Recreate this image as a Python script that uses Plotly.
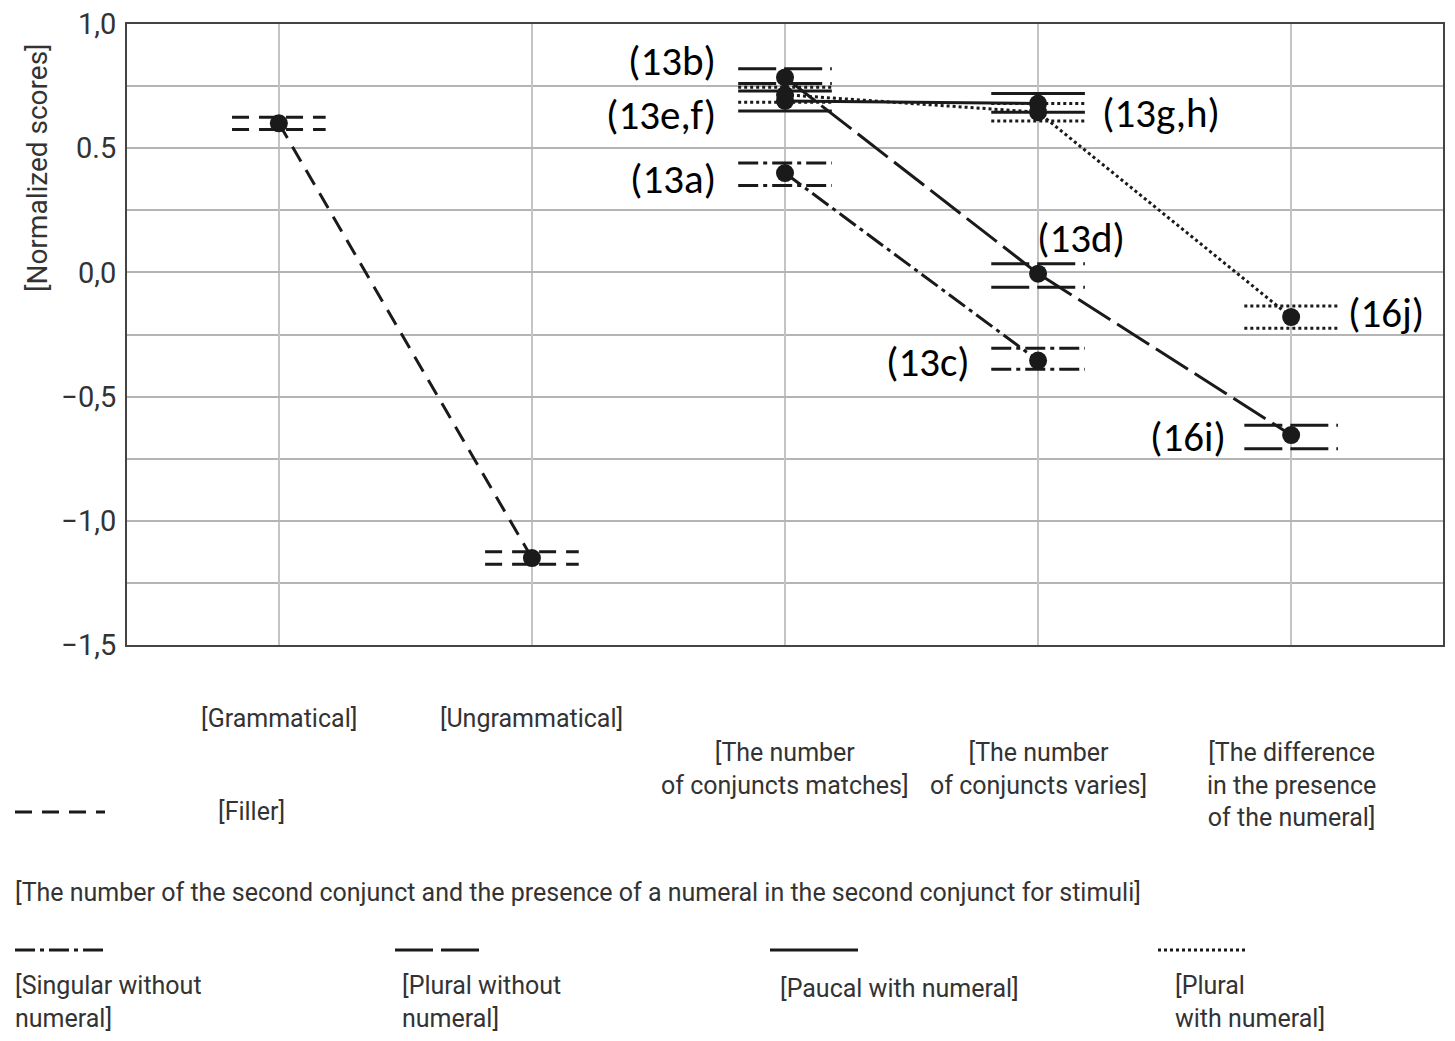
import plotly.graph_objects as go

# ---------------- data ----------------
categories = ["[Grammatical]", "[Ungrammatical]",
              "[The number<br>of conjuncts matches]",
              "[The number<br>of conjuncts varies]",
              "[The difference<br>in the presence<br>of the numeral]"]
cat_label_py = [718, 718, 769, 769, 785]   # screen-pixel centre rows of the labels

filler_x = [0, 1]
filler_y = [0.60, -1.15]
filler_lo = [0.575, -1.175]
filler_hi = [0.625, -1.125]

sing_x = [2, 3]
sing_y = [0.40, -0.355]
sing_lo = [0.35, -0.39]
sing_hi = [0.44, -0.305]

plnn_x = [2, 3, 4]
plnn_y = [0.785, -0.005, -0.655]
plnn_lo = [0.76, -0.06, -0.71]
plnn_hi = [0.82, 0.035, -0.615]

pauc_x = [2, 3]
pauc_y = [0.69, 0.68]
pauc_lo = [0.65, 0.645]
pauc_hi = [0.73, 0.72]

plwn_x = [2, 3, 4]
plwn_y = [0.715, 0.645, -0.18]
plwn_lo = [0.685, 0.61, -0.225]
plwn_hi = [0.745, 0.68, -0.135]

point_labels = ["(13b)", "(13e,f)", "(13a)", "(13g,h)", "(13d)", "(13c)", "(16j)", "(16i)"]
point_label_x = [1.735, 1.735, 1.735, 3.245, 2.988, 2.739, 4.217, 3.750]
point_label_y = [0.853, 0.632, 0.378, 0.64, 0.137, -0.362, -0.165, -0.664]
point_label_side = ["right", "right", "right", "left", "left", "right", "left", "right"]

ytick_vals = [1.0, 0.5, 0.0, -0.5, -1.0, -1.5]
ytick_text = ["1,0", "0.5", "0,0", "\u22120,5", "\u22121,0", "\u22121,5"]

# ---------------- styles ----------------
INK = "#1a1a1a"
TXT = "#333333"
NARROW = "Roboto, Liberation Sans Narrow, DejaVu Sans Condensed, sans-serif"
LBL = "Carlito, Calibri, Noto Sans, Open Sans, sans-serif"
HALF = 0.185  # half width of CI bars, in category units
NSIZE = 25

DASH_FILLER = "17px,10px"
DASH_LONG = "38px,8px"
DASH_DASHDOT = "20px,5px,4px,5px"
DASH_DOT = "3px,3px"

fig = go.Figure()

def add_series(xs, ys, los, his, dash, width=3):
    fig.add_trace(go.Scatter(x=xs, y=ys, mode="lines+markers",
                             line=dict(color=INK, width=width, dash=dash),
                             marker=dict(color=INK, size=18),
                             showlegend=False, hoverinfo="skip"))
    for x, lo, hi in zip(xs, los, his):
        for v in (lo, hi):
            fig.add_trace(go.Scatter(x=[x - HALF, x + HALF], y=[v, v], mode="lines",
                                     line=dict(color=INK, width=width, dash=dash),
                                     showlegend=False, hoverinfo="skip"))

add_series(filler_x, filler_y, filler_lo, filler_hi, DASH_FILLER)
add_series(sing_x, sing_y, sing_lo, sing_hi, DASH_DASHDOT)
add_series(plnn_x, plnn_y, plnn_lo, plnn_hi, DASH_LONG)
add_series(pauc_x, pauc_y, pauc_lo, pauc_hi, "solid")
add_series(plwn_x, plwn_y, plwn_lo, plwn_hi, DASH_DOT)

# plot area in screen pixels (reference)
PX_L, PX_R, PX_T, PX_B = 127, 1443, 24, 645

def px2paper_x(px):
    return (px - PX_L) / float(PX_R - PX_L)

def px2paper_y(py):
    return (PX_B - py) / float(PX_B - PX_T)

annotations = []
for t, x, y, side in zip(point_labels, point_label_x, point_label_y, point_label_side):
    annotations.append(dict(x=x, y=y, xref="x", yref="y", text=t, showarrow=False,
                            xanchor=side, yanchor="middle",
                            font=dict(family=LBL, size=41, color="#000000")))

for i, (c, py) in enumerate(zip(categories, cat_label_py)):
    annotations.append(dict(x=i, y=px2paper_y(py), xref="x", yref="paper", text=c,
                            showarrow=False, xanchor="center", yanchor="middle",
                            align="center",
                            font=dict(family=NARROW, size=NSIZE, color=TXT)))

# y axis title
annotations.append(dict(x=px2paper_x(37), y=px2paper_y(168), xref="paper", yref="paper",
                        text="[Normalized scores]", textangle=-90, showarrow=False,
                        xanchor="center", yanchor="middle",
                        font=dict(family=NARROW, size=28, color=TXT)))

# legend texts
legend_texts = [
    ("[Filler]", 251, 812, "center"),
    ("[The number of the second conjunct and the presence of a numeral in the second conjunct for stimuli]", 13, 892, "left"),
    ("[Singular without<br>numeral]", 13, 1002, "left"),
    ("[Plural without<br>numeral]", 400, 1002, "left"),
    ("[Paucal with numeral]", 778, 988, "left"),
    ("[Plural<br>with numeral]", 1173, 1002, "left"),
]
for t, x, y, anc in legend_texts:
    annotations.append(dict(x=px2paper_x(x), y=px2paper_y(y), xref="paper", yref="paper",
                            text=t, showarrow=False, xanchor=anc, yanchor="middle", align="left",
                            font=dict(family=NARROW, size=NSIZE, color=TXT)))

# legend line samples
legend_samples = [
    (15, 105, 812, DASH_FILLER),
    (15, 105, 950, DASH_DASHDOT),
    (395, 485, 950, DASH_LONG),
    (770, 858, 950, "solid"),
    (1158, 1245, 950, DASH_DOT),
]
shapes = []
for x0, x1, y, d in legend_samples:
    shapes.append(dict(type="line", xref="paper", yref="paper",
                       x0=px2paper_x(x0), x1=px2paper_x(x1),
                       y0=px2paper_y(y), y1=px2paper_y(y),
                       line=dict(color=INK, width=3, dash=d)))

# page body has an 8px margin: shrink the figure so it fits the window
OFF = 8
W, H = 1455 - 2 * OFF, 1041 - 2 * OFF
fig.update_layout(
    width=W, height=H,
    margin=dict(l=PX_L - OFF, r=W - (PX_R - OFF), t=PX_T - OFF, b=H - (PX_B - OFF)),
    paper_bgcolor="white", plot_bgcolor="white",
    showlegend=False,
    annotations=annotations,
    shapes=shapes,
    xaxis=dict(range=[-0.6, 4.6], tickvals=[0, 1, 2, 3, 4], showticklabels=False,
               showgrid=True, gridcolor="#c4c4c4", gridwidth=2, zeroline=False,
               automargin=False,
               showline=True, linecolor="#444444", linewidth=2, mirror=True, ticks=""),
    yaxis=dict(range=[-1.5, 1.0], tickvals=ytick_vals, ticktext=ytick_text,
               showgrid=True, gridcolor="#b4b4b4", gridwidth=2, zeroline=False,
               automargin=False,
               minor=dict(dtick=0.25, showgrid=True, gridcolor="#b4b4b4", gridwidth=2),
               showline=True, linecolor="#444444", linewidth=2, mirror=True, ticks="",
               ticklabelstandoff=3, ticklabeloverflow="allow",
               tickfont=dict(family=NARROW, size=29, color=TXT)),
)

fig.write_html("out.html")
